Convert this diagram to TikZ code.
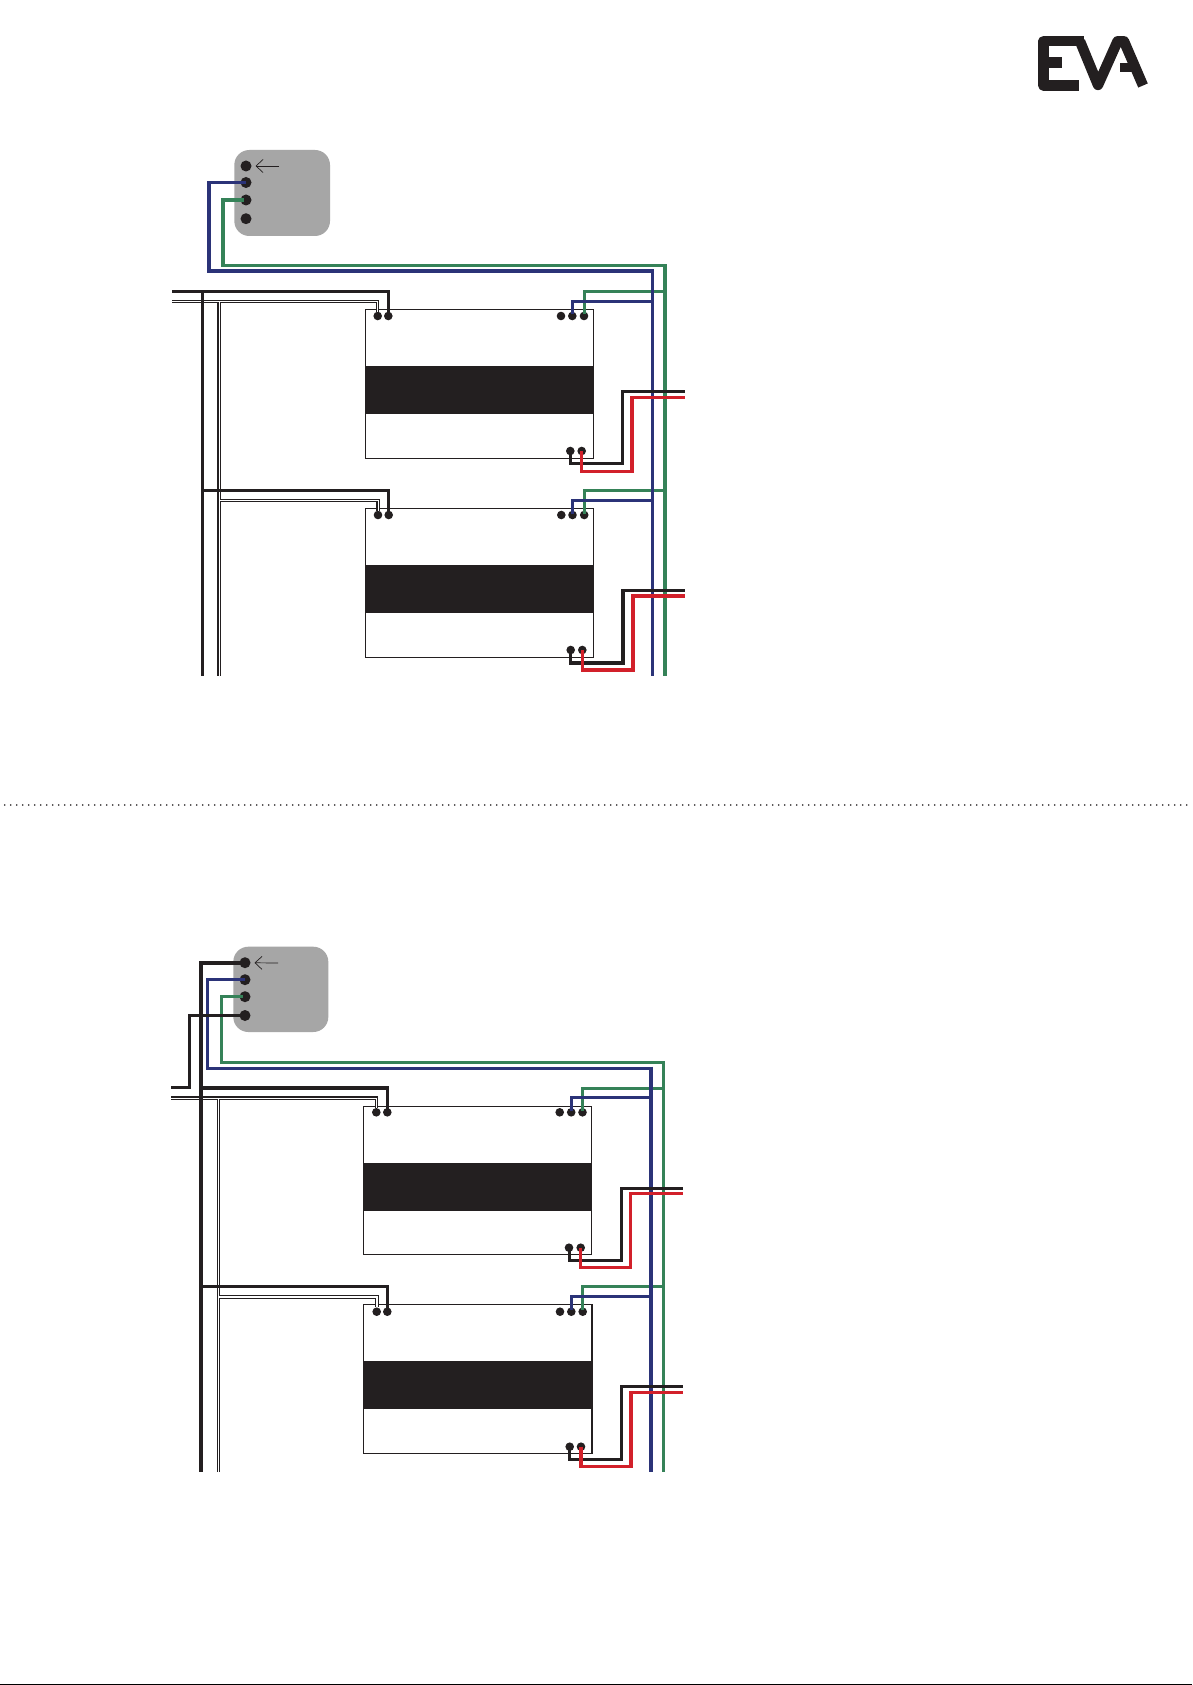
\documentclass[tikz,border=0pt]{standalone}
\usetikzlibrary{arrows.meta}
\definecolor{ink}{HTML}{231F20}
\definecolor{wblue}{HTML}{2B3378}
\definecolor{wgreen}{HTML}{358258}
\definecolor{wred}{HTML}{D2202A}
\definecolor{panel}{HTML}{A6A6A6}
\tikzset{
  x=1pt,y=-1pt,
  every node/.style={inner sep=0pt,outer sep=0pt},
  ctrl/.style={fill=panel,rounded corners=15pt},
  bigdot/.style={circle,fill=ink,minimum size=11pt},
  smalldot/.style={circle,fill=ink,minimum size=8.6pt},
  unitbox/.style={draw=ink,line width=1pt,fill=white},
  band/.style={fill=ink},
  blackw/.style={draw=ink,line width=3pt,miter limit=10},
  bluew/.style={draw=wblue,line width=3.4pt},
  greenw/.style={draw=wgreen,line width=3.6pt},
  redw/.style={draw=wred,line width=3.2pt},
  doubleo/.style={draw=ink,line width=3.2pt},
  doublei/.style={draw=white,line width=1pt},
  logo/.style={draw=ink,line width=10.4pt,line join=round},
  pointer/.style={draw=ink,line width=.7pt,-{Straight Barb[length=7pt,width=13pt,line width=.7pt]},shorten >=4pt},
}
\begin{document}
\begin{tikzpicture}
\useasboundingbox (0,0) rectangle (1192,1685);
\fill[white] (0,0) rectangle (1192,1685);

% logo
\draw[logo] (1084,41.3) -- (1043.5,41.3) -- (1043.5,85.5) -- (1079,85.5);
\draw[logo] (1043.5,62.4) -- (1062,62.4);
\draw[logo] (1080,41.3) -- (1098,85) -- (1117.5,41.3) -- (1124,41.3) -- (1143,85.5);
\draw[ink,line width=9pt] (1120,68) -- (1135,68);

% page rules
\coordinate (dl) at (0,805);
\coordinate (dr) at (1192,805);
\draw[ink,line width=1.8pt,line cap=round,dash pattern=on 0pt off 6pt,dash phase=1.3pt] (dl) -- (dr);
\coordinate (bl) at (0,1684.4);
\coordinate (br) at (1192,1684.4);
\draw[black,line width=1.3pt] (bl) -- (br);

%%%%%% upper panel
\node[ctrl,minimum width=95.7pt,minimum height=86pt] (ca) at (282.15,193) {};
\node[bigdot] (pa1) at (246,166) {};
\node[bigdot] (pa2) at (246,182.5) {};
\node[bigdot] (pa3) at (246,200) {};
\node[bigdot] (pa4) at (246,218.7) {};
\coordinate (aa) at (279,166);
\draw[pointer] (aa) -- (pa1);

\node[unitbox,minimum width=228pt,minimum height=148.8pt] (u1) at (479,383.9) {};
\node[band,minimum width=228.6pt,minimum height=47.7pt] (b1) at (479,389.85) {};
\node[unitbox,minimum width=228pt,minimum height=148.6pt] (u2) at (479.3,583) {};
\node[band,minimum width=228.6pt,minimum height=47.7pt] (b2) at (479.3,588.85) {};

\foreach \n/\x/\y in {u1a/377.7/316,u1b/388.3/316,u1c/561/316,u1d/572.3/316,u1e/584/316,u1f/570.3/451,u1g/581.7/451,
                      u2a/378/515,u2b/388.7/515,u2c/561.3/515,u2d/572.5/515,u2e/584.2/515,u2f/570.7/650,u2g/582.3/650}
  \node[smalldot] (\n) at (\x,\y) {};

\coordinate (ael) at (172,291.3);
\coordinate (adl) at (172,301.7);
\coordinate (ab) at (202.3,675.7);
\coordinate (adb) at (219,675.7);
\coordinate (agb) at (665,675.7);
\coordinate (ablb) at (652.3,675.7);
\coordinate (ab1) at (202.3,291.3);
\coordinate (ab2) at (202.3,490.3);
\coordinate (ad1) at (219,301.7);
\coordinate (ad2) at (219,500.3);
\coordinate (ag1) at (665,291.3);
\coordinate (ag2) at (665,490.3);
\coordinate (abl1) at (652.3,301.3);
\coordinate (abl2) at (652.3,500.3);
\coordinate (ak1) at (685,391.3);
\coordinate (ar1) at (685,397.3);
\coordinate (ak2) at (685,590.7);
\coordinate (ar2) at (685,596);

% double cable
\foreach \s in {doubleo,doublei}{
  \draw[\s] (adl) -| (u1a);
  \draw[\s] (ad1) -- (adb);
  \draw[\s] (ad2) -| (u2a);
}
% black supply
\draw[blackw] (ael) -| (u1b.center);
\draw[blackw] (ab1) -- (ab);
\draw[blackw] (ab2) -| (u2b.center);
% green
\draw[greenw,shorten <=2.5pt] (pa3.center) -- (223,200) -- (223,265.7) -- (665,265.7) -- (agb);
\draw[greenw,line width=3pt,shorten >=1.5pt] (ag1) -| (u1e.center);
\draw[greenw,line width=3pt,shorten >=1.5pt] (ag2) -| (u2e.center);
% blue
\draw[bluew] (pa2.center) -- (209,182.5) -- (209,271) -- (652.3,271) -- (ablb);
\draw[bluew,line width=3pt,shorten >=1.5pt] (abl1) -| (u1d.center);
\draw[bluew,line width=3pt,shorten >=1.5pt] (abl2) -| (u2d.center);
% output pairs
\draw[blackw,line width=3.4pt] (u1f.center) |- (622.3,463.7) |- (ak1);
\draw[redw] (u1g.center) |- (632,471.3) |- (ar1);
\draw[blackw,line width=3.4pt] (u2f.center) |- (623,663) |- (ak2);
\draw[redw] (u2g.center) |- (633,670) |- (ar2);

%%%%%% lower panel
\node[ctrl,minimum width=95pt,minimum height=85.3pt] (cb) at (280.8,989.35) {};
\node[bigdot] (pb1) at (245,962.7) {};
\node[bigdot] (pb2) at (245,979.7) {};
\node[bigdot] (pb3) at (245,996.7) {};
\node[bigdot] (pb4) at (245,1015.5) {};
\coordinate (ba) at (278,963);
\draw[pointer] (ba) -- (pb1);

\node[unitbox,minimum width=228pt,minimum height=148pt] (u3) at (477.3,1180) {};
\node[band,minimum width=228.6pt,minimum height=47.7pt] (b3) at (477.3,1186.85) {};
\node[unitbox,line width=1.5pt,minimum width=228.3pt,minimum height=148.6pt] (u4) at (477.85,1379) {};
\node[band,minimum width=229pt,minimum height=47.7pt] (b4) at (477.85,1384.85) {};

\foreach \n/\x/\y in {u3a/376.3/1112.3,u3b/387.3/1112.3,u3c/559.7/1112.3,u3d/571.2/1112.3,u3e/582.5/1112.3,u3f/569/1247.7,u3g/580.7/1247.7,
                      u4a/376.7/1311.7,u4b/387.3/1311.7,u4c/560/1311.7,u4d/571.3/1311.7,u4e/582.7/1311.7,u4f/569.7/1446.7,u4g/581/1446.7}
  \node[smalldot] (\n) at (\x,\y) {};

\coordinate (bel) at (171,1087.4);
\coordinate (bdl) at (171,1098);
\coordinate (bb) at (201,1471.7);
\coordinate (bdb) at (218.2,1471.7);
\coordinate (bgb) at (663.3,1471.7);
\coordinate (bblb) at (651,1471.7);
\coordinate (bb1) at (201,1087.7);
\coordinate (bb2) at (201,1286.3);
\coordinate (bd1) at (218.2,1098);
\coordinate (bd2) at (218.2,1296.7);
\coordinate (bg1) at (663.3,1088);
\coordinate (bg2) at (663.3,1286.3);
\coordinate (bbl1) at (651,1097.7);
\coordinate (bbl2) at (651,1296.7);
\coordinate (bk1) at (682.7,1188);
\coordinate (br1) at (682.7,1193.7);
\coordinate (bk2) at (682.7,1386.3);
\coordinate (br2) at (682.7,1392.3);

% double cable
\draw[doubleo] (bdl) -| (u3a);
\draw[doubleo] (bd1) -- (bdb);
\draw[doubleo,line width=4.2pt] (bd2) -| (u4a);
\draw[doublei] (bdl) -| (u3a);
\draw[doublei] (bd1) -- (bdb);
\draw[doublei,line width=2.2pt] (bd2) -| (u4a);
% green
\draw[greenw,line width=3pt,shorten <=2.5pt] (pb3.center) -- (221.3,996.7) -- (221.3,1062.3) -- (663.3,1062.3) -- (bgb);
\draw[greenw,line width=3pt,shorten >=1.5pt] (bg1) -| (u3e.center);
\draw[greenw,line width=3.4pt,shorten >=1.5pt] (bg2) -| (u4e.center);
% blue
\draw[bluew,line width=3.4pt] (pb2.center) -- (207.3,979.7) -- (207.3,1068.3) -- (651,1068.3);
\draw[bluew,line width=4pt] (651,1066.6) -- (bblb);
\draw[bluew,shorten >=1.5pt] (bbl1) -| (u3d.center);
\draw[bluew,shorten >=1.5pt] (bbl2) -| (u4d.center);
% black supply
\draw[blackw,line width=3.6pt] (pb1.center) -- (201,962.7) -- (bb);
\draw[blackw,line width=3.6pt] (bb1) -| (u3b.center);
\draw[blackw,line width=3.4pt] (bb2) -| (u4b.center);
\draw[blackw] (pb4.center) -- (189.7,1015.5) -- (189.7,1087.4) -- (bel);
% output pairs
\draw[blackw] (u3f.center) |- (621.3,1260.3) |- (bk1);
\draw[redw] (u3g.center) |- (630.7,1267.3) |- (br1);
\draw[blackw] (u4f.center) |- (621.3,1459.3) |- (bk2);
\draw[redw] (u4g.center) |- (631,1466.3) |- (br2);
\end{tikzpicture}
\end{document}
